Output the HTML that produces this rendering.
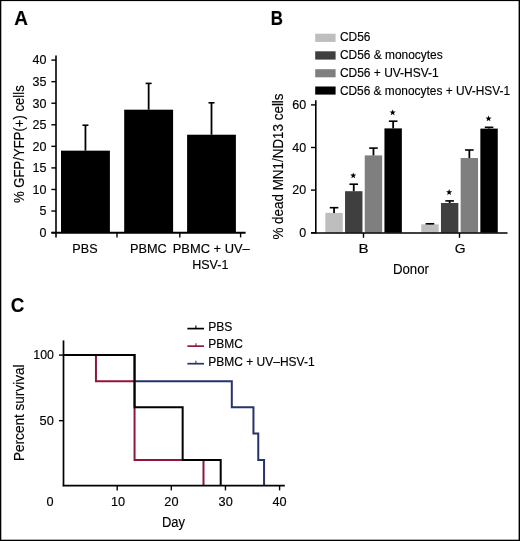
<!DOCTYPE html><html><head><meta charset="utf-8"><style>html,body{margin:0;padding:0;background:#fff;}svg{display:block;will-change:transform;}text{font-family:"Liberation Sans",sans-serif;fill:#000;stroke:#000;stroke-width:0.15px;}</style></head><body>
<svg width="520" height="541" viewBox="0 0 520 541">
<rect x="0.00" y="0.00" width="520.00" height="541.00" fill="#fff"/>
<text x="14.13" y="24.80" font-size="19.5" text-anchor="start" font-weight="bold" textLength="13.69" lengthAdjust="spacingAndGlyphs" stroke-width="0">A</text>
<rect x="61.00" y="150.66" width="48.90" height="81.94" fill="#000"/>
<line x1="85.45" y1="125.22" x2="85.45" y2="150.66" stroke="#000" stroke-width="1.8" stroke-linecap="butt"/>
<line x1="82.45" y1="125.22" x2="88.45" y2="125.22" stroke="#000" stroke-width="1.6" stroke-linecap="butt"/>
<rect x="124.20" y="109.69" width="48.90" height="122.91" fill="#000"/>
<line x1="148.65" y1="83.39" x2="148.65" y2="109.69" stroke="#000" stroke-width="1.8" stroke-linecap="butt"/>
<line x1="145.65" y1="83.39" x2="151.65" y2="83.39" stroke="#000" stroke-width="1.6" stroke-linecap="butt"/>
<rect x="187.10" y="134.71" width="48.80" height="97.89" fill="#000"/>
<line x1="211.50" y1="102.79" x2="211.50" y2="134.71" stroke="#000" stroke-width="1.8" stroke-linecap="butt"/>
<line x1="208.50" y1="102.79" x2="214.50" y2="102.79" stroke="#000" stroke-width="1.6" stroke-linecap="butt"/>
<line x1="56.00" y1="55.40" x2="56.00" y2="237.40" stroke="#000" stroke-width="1.6" stroke-linecap="butt"/>
<line x1="51.40" y1="232.60" x2="56.00" y2="232.60" stroke="#000" stroke-width="1.4" stroke-linecap="butt"/>
<text x="39.59" y="236.90" font-size="12" text-anchor="start" font-weight="normal" textLength="6.97" lengthAdjust="spacingAndGlyphs">0</text>
<line x1="51.40" y1="211.04" x2="56.00" y2="211.04" stroke="#000" stroke-width="1.4" stroke-linecap="butt"/>
<text x="39.59" y="215.34" font-size="12" text-anchor="start" font-weight="normal" textLength="6.97" lengthAdjust="spacingAndGlyphs">5</text>
<line x1="51.40" y1="189.47" x2="56.00" y2="189.47" stroke="#000" stroke-width="1.4" stroke-linecap="butt"/>
<text x="32.63" y="193.78" font-size="12" text-anchor="start" font-weight="normal" textLength="13.95" lengthAdjust="spacingAndGlyphs">10</text>
<line x1="51.40" y1="167.91" x2="56.00" y2="167.91" stroke="#000" stroke-width="1.4" stroke-linecap="butt"/>
<text x="32.63" y="172.21" font-size="12" text-anchor="start" font-weight="normal" textLength="13.95" lengthAdjust="spacingAndGlyphs">15</text>
<line x1="51.40" y1="146.35" x2="56.00" y2="146.35" stroke="#000" stroke-width="1.4" stroke-linecap="butt"/>
<text x="32.63" y="150.65" font-size="12" text-anchor="start" font-weight="normal" textLength="13.95" lengthAdjust="spacingAndGlyphs">20</text>
<line x1="51.40" y1="124.79" x2="56.00" y2="124.79" stroke="#000" stroke-width="1.4" stroke-linecap="butt"/>
<text x="32.63" y="129.09" font-size="12" text-anchor="start" font-weight="normal" textLength="13.95" lengthAdjust="spacingAndGlyphs">25</text>
<line x1="51.40" y1="103.22" x2="56.00" y2="103.22" stroke="#000" stroke-width="1.4" stroke-linecap="butt"/>
<text x="32.63" y="107.52" font-size="12" text-anchor="start" font-weight="normal" textLength="13.95" lengthAdjust="spacingAndGlyphs">30</text>
<line x1="51.40" y1="81.66" x2="56.00" y2="81.66" stroke="#000" stroke-width="1.4" stroke-linecap="butt"/>
<text x="32.63" y="85.96" font-size="12" text-anchor="start" font-weight="normal" textLength="13.95" lengthAdjust="spacingAndGlyphs">35</text>
<line x1="51.40" y1="60.10" x2="56.00" y2="60.10" stroke="#000" stroke-width="1.4" stroke-linecap="butt"/>
<text x="32.63" y="64.40" font-size="12" text-anchor="start" font-weight="normal" textLength="13.95" lengthAdjust="spacingAndGlyphs">40</text>
<line x1="51.40" y1="232.65" x2="245.60" y2="232.65" stroke="#000" stroke-width="2.0" stroke-linecap="butt"/>
<line x1="117.00" y1="232.90" x2="117.00" y2="237.40" stroke="#000" stroke-width="1.4" stroke-linecap="butt"/>
<line x1="179.80" y1="232.90" x2="179.80" y2="237.40" stroke="#000" stroke-width="1.4" stroke-linecap="butt"/>
<line x1="240.60" y1="232.90" x2="240.60" y2="237.40" stroke="#000" stroke-width="1.4" stroke-linecap="butt"/>
<text x="72.39" y="253.00" font-size="12" text-anchor="start" font-weight="normal" textLength="25.19" lengthAdjust="spacingAndGlyphs">PBS</text>
<text x="129.98" y="253.10" font-size="12" text-anchor="start" font-weight="normal" textLength="36.78" lengthAdjust="spacingAndGlyphs">PBMC</text>
<text x="172.77" y="253.20" font-size="12" text-anchor="start" font-weight="normal" textLength="76.92" lengthAdjust="spacingAndGlyphs">PBMC + UV–</text>
<text x="192.20" y="268.50" font-size="12" text-anchor="start" font-weight="normal" textLength="36.23" lengthAdjust="spacingAndGlyphs">HSV-1</text>
<text transform="translate(23.90,202.96) rotate(-90)" font-size="15" stroke-width="0.35" textLength="117.70" lengthAdjust="spacingAndGlyphs">% GFP/YFP(+) cells</text>
<text x="270.80" y="24.50" font-size="19.5" text-anchor="start" font-weight="bold" textLength="12.19" lengthAdjust="spacingAndGlyphs" stroke-width="0">B</text>
<rect x="315.20" y="33.70" width="20.40" height="8.20" fill="#bebebe"/>
<text x="339.90" y="41.30" font-size="12" text-anchor="start" font-weight="normal" textLength="30.56" lengthAdjust="spacingAndGlyphs">CD56</text>
<rect x="315.20" y="51.30" width="20.40" height="8.30" fill="#3f3f3f"/>
<text x="339.90" y="59.40" font-size="12" text-anchor="start" font-weight="normal" textLength="102.81" lengthAdjust="spacingAndGlyphs">CD56 &amp; monocytes</text>
<rect x="315.20" y="69.20" width="20.40" height="8.10" fill="#7f7f7f"/>
<text x="339.90" y="76.90" font-size="12" text-anchor="start" font-weight="normal" textLength="98.78" lengthAdjust="spacingAndGlyphs">CD56 + UV-HSV-1</text>
<rect x="315.20" y="86.50" width="20.40" height="8.10" fill="#000000"/>
<text x="339.91" y="94.60" font-size="12" text-anchor="start" font-weight="normal" textLength="170.21" lengthAdjust="spacingAndGlyphs">CD56 &amp; monocytes + UV-HSV-1</text>
<rect x="325.35" y="212.89" width="17.40" height="19.81" fill="#bebebe"/>
<line x1="334.05" y1="207.69" x2="334.05" y2="212.89" stroke="#000" stroke-width="1.8" stroke-linecap="butt"/>
<line x1="329.75" y1="207.69" x2="338.35" y2="207.69" stroke="#000" stroke-width="1.6" stroke-linecap="butt"/>
<rect x="345.05" y="191.21" width="17.40" height="41.49" fill="#3f3f3f"/>
<line x1="353.75" y1="184.20" x2="353.75" y2="191.21" stroke="#000" stroke-width="1.8" stroke-linecap="butt"/>
<line x1="349.45" y1="184.20" x2="358.05" y2="184.20" stroke="#000" stroke-width="1.6" stroke-linecap="butt"/>
<polygon points="353.25,172.40 354.04,174.51 356.29,174.61 354.53,176.02 355.13,178.19 353.25,176.94 351.37,178.19 351.97,176.02 350.21,174.61 352.46,174.51" fill="#000"/>
<rect x="364.75" y="155.40" width="17.40" height="77.30" fill="#7f7f7f"/>
<line x1="373.45" y1="148.10" x2="373.45" y2="155.40" stroke="#000" stroke-width="1.8" stroke-linecap="butt"/>
<line x1="369.15" y1="148.10" x2="377.75" y2="148.10" stroke="#000" stroke-width="1.6" stroke-linecap="butt"/>
<rect x="384.45" y="128.39" width="17.40" height="104.31" fill="#000000"/>
<line x1="393.15" y1="121.19" x2="393.15" y2="128.39" stroke="#000" stroke-width="1.8" stroke-linecap="butt"/>
<line x1="388.85" y1="121.19" x2="397.45" y2="121.19" stroke="#000" stroke-width="1.6" stroke-linecap="butt"/>
<polygon points="392.65,109.39 393.44,111.51 395.69,111.61 393.93,113.01 394.53,115.18 392.65,113.94 390.77,115.18 391.37,113.01 389.61,111.61 391.86,111.51" fill="#000"/>
<rect x="421.25" y="224.31" width="17.40" height="8.39" fill="#bebebe"/>
<line x1="429.95" y1="223.80" x2="429.95" y2="224.31" stroke="#000" stroke-width="1.8" stroke-linecap="butt"/>
<line x1="425.65" y1="223.80" x2="434.25" y2="223.80" stroke="#000" stroke-width="1.6" stroke-linecap="butt"/>
<rect x="440.95" y="203.01" width="17.40" height="29.69" fill="#3f3f3f"/>
<line x1="449.65" y1="200.90" x2="449.65" y2="203.01" stroke="#000" stroke-width="1.8" stroke-linecap="butt"/>
<line x1="445.35" y1="200.90" x2="453.95" y2="200.90" stroke="#000" stroke-width="1.6" stroke-linecap="butt"/>
<polygon points="449.15,189.10 449.94,191.21 452.19,191.31 450.43,192.71 451.03,194.89 449.15,193.64 447.27,194.89 447.87,192.71 446.11,191.31 448.36,191.21" fill="#000"/>
<rect x="460.65" y="158.00" width="17.40" height="74.70" fill="#7f7f7f"/>
<line x1="469.35" y1="149.99" x2="469.35" y2="158.00" stroke="#000" stroke-width="1.8" stroke-linecap="butt"/>
<line x1="465.05" y1="149.99" x2="473.65" y2="149.99" stroke="#000" stroke-width="1.6" stroke-linecap="butt"/>
<rect x="480.35" y="128.61" width="17.40" height="104.09" fill="#000000"/>
<line x1="489.05" y1="127.31" x2="489.05" y2="128.61" stroke="#000" stroke-width="1.8" stroke-linecap="butt"/>
<line x1="484.75" y1="127.31" x2="493.35" y2="127.31" stroke="#000" stroke-width="1.6" stroke-linecap="butt"/>
<polygon points="488.55,115.51 489.34,117.62 491.59,117.72 489.83,119.12 490.43,121.30 488.55,120.05 486.67,121.30 487.27,119.12 485.51,117.72 487.76,117.62" fill="#000"/>
<line x1="315.80" y1="100.20" x2="315.80" y2="233.60" stroke="#000" stroke-width="1.6" stroke-linecap="butt"/>
<line x1="311.00" y1="232.70" x2="315.80" y2="232.70" stroke="#000" stroke-width="1.4" stroke-linecap="butt"/>
<text x="299.27" y="236.70" font-size="12" text-anchor="start" font-weight="normal" textLength="6.94" lengthAdjust="spacingAndGlyphs">0</text>
<line x1="311.00" y1="190.10" x2="315.80" y2="190.10" stroke="#000" stroke-width="1.4" stroke-linecap="butt"/>
<text x="292.35" y="194.10" font-size="12" text-anchor="start" font-weight="normal" textLength="13.88" lengthAdjust="spacingAndGlyphs">20</text>
<line x1="311.00" y1="147.50" x2="315.80" y2="147.50" stroke="#000" stroke-width="1.4" stroke-linecap="butt"/>
<text x="292.35" y="151.50" font-size="12" text-anchor="start" font-weight="normal" textLength="13.88" lengthAdjust="spacingAndGlyphs">40</text>
<line x1="311.00" y1="104.90" x2="315.80" y2="104.90" stroke="#000" stroke-width="1.4" stroke-linecap="butt"/>
<text x="292.35" y="108.90" font-size="12" text-anchor="start" font-weight="normal" textLength="13.88" lengthAdjust="spacingAndGlyphs">60</text>
<line x1="311.00" y1="232.90" x2="507.50" y2="232.90" stroke="#000" stroke-width="1.5" stroke-linecap="butt"/>
<line x1="363.50" y1="232.90" x2="363.50" y2="237.80" stroke="#000" stroke-width="1.4" stroke-linecap="butt"/>
<line x1="459.50" y1="232.90" x2="459.50" y2="237.80" stroke="#000" stroke-width="1.4" stroke-linecap="butt"/>
<text x="358.49" y="252.90" font-size="12" text-anchor="start" font-weight="normal" textLength="10.10" lengthAdjust="spacingAndGlyphs" stroke-width="0">B</text>
<text x="454.71" y="252.90" font-size="12" text-anchor="start" font-weight="normal" textLength="10.81" lengthAdjust="spacingAndGlyphs" stroke-width="0">G</text>
<text x="392.94" y="274.00" font-size="15.5" text-anchor="start" font-weight="normal" textLength="36.01" lengthAdjust="spacingAndGlyphs" stroke-width="0.35">Donor</text>
<text transform="translate(282.80,239.57) rotate(-90)" font-size="15" stroke-width="0.35" textLength="146.12" lengthAdjust="spacingAndGlyphs">% dead MN1/ND13 cells</text>
<text x="10.75" y="311.60" font-size="19.5" text-anchor="start" font-weight="bold" textLength="13.56" lengthAdjust="spacingAndGlyphs" stroke-width="0">C</text>
<polyline points="63.50,355.10 134.55,355.10 134.55,381.15 231.80,381.15 231.80,407.15 253.45,407.15 253.45,433.50 258.25,433.50 258.25,460.00 264.05,460.00 264.05,486.00" fill="none" stroke="#27336b" stroke-width="2.0" stroke-linejoin="miter" stroke-linecap="butt"/>
<polyline points="63.50,355.10 95.95,355.10 95.95,381.15 134.55,381.15 134.55,460.00 203.50,460.00 203.50,486.00" fill="none" stroke="#8e173a" stroke-width="2.0" stroke-linejoin="miter" stroke-linecap="butt"/>
<polyline points="63.50,355.10 134.55,355.10 134.55,407.15 182.65,407.15 182.65,460.00 220.70,460.00 220.70,486.00" fill="none" stroke="#000" stroke-width="2.0" stroke-linejoin="miter" stroke-linecap="butt"/>
<line x1="63.50" y1="340.40" x2="63.50" y2="486.20" stroke="#000" stroke-width="1.7" stroke-linecap="butt"/>
<line x1="59.00" y1="420.65" x2="63.50" y2="420.65" stroke="#000" stroke-width="1.4" stroke-linecap="butt"/>
<line x1="59.00" y1="355.10" x2="63.50" y2="355.10" stroke="#000" stroke-width="1.4" stroke-linecap="butt"/>
<text x="33.31" y="359.40" font-size="12" text-anchor="start" font-weight="normal" textLength="20.62" lengthAdjust="spacingAndGlyphs">100</text>
<text x="39.56" y="424.95" font-size="12" text-anchor="start" font-weight="normal" textLength="14.28" lengthAdjust="spacingAndGlyphs">50</text>
<line x1="62.70" y1="485.60" x2="284.80" y2="485.60" stroke="#000" stroke-width="1.8" stroke-linecap="butt"/>
<line x1="117.19" y1="485.60" x2="117.19" y2="490.40" stroke="#000" stroke-width="1.4" stroke-linecap="butt"/>
<line x1="171.32" y1="485.60" x2="171.32" y2="490.40" stroke="#000" stroke-width="1.4" stroke-linecap="butt"/>
<line x1="225.45" y1="485.60" x2="225.45" y2="490.40" stroke="#000" stroke-width="1.4" stroke-linecap="butt"/>
<line x1="279.58" y1="485.60" x2="279.58" y2="490.40" stroke="#000" stroke-width="1.4" stroke-linecap="butt"/>
<text x="46.62" y="506.00" font-size="12" text-anchor="start" font-weight="normal" textLength="7.07" lengthAdjust="spacingAndGlyphs">0</text>
<text x="110.97" y="506.00" font-size="12" text-anchor="start" font-weight="normal" textLength="14.15" lengthAdjust="spacingAndGlyphs">10</text>
<text x="164.33" y="506.00" font-size="12" text-anchor="start" font-weight="normal" textLength="14.15" lengthAdjust="spacingAndGlyphs">20</text>
<text x="218.64" y="506.00" font-size="12" text-anchor="start" font-weight="normal" textLength="14.15" lengthAdjust="spacingAndGlyphs">30</text>
<text x="272.49" y="506.00" font-size="12" text-anchor="start" font-weight="normal" textLength="14.15" lengthAdjust="spacingAndGlyphs">40</text>
<text x="161.96" y="526.70" font-size="15.5" text-anchor="start" font-weight="normal" textLength="23.08" lengthAdjust="spacingAndGlyphs" stroke-width="0.35">Day</text>
<text transform="translate(23.90,460.99) rotate(-90)" font-size="15" stroke-width="0.35" textLength="96.52" lengthAdjust="spacingAndGlyphs">Percent survival</text>
<line x1="187.40" y1="328.60" x2="204.00" y2="328.60" stroke="#000" stroke-width="1.7" stroke-linecap="butt"/>
<line x1="195.90" y1="325.60" x2="195.90" y2="328.60" stroke="#000" stroke-width="1.1" stroke-linecap="butt"/>
<text x="208.23" y="330.50" font-size="12" text-anchor="start" font-weight="normal" textLength="24.23" lengthAdjust="spacingAndGlyphs">PBS</text>
<line x1="187.40" y1="346.15" x2="204.00" y2="346.15" stroke="#8e173a" stroke-width="1.7" stroke-linecap="butt"/>
<line x1="195.90" y1="343.15" x2="195.90" y2="346.15" stroke="#8e173a" stroke-width="1.1" stroke-linecap="butt"/>
<text x="208.24" y="348.30" font-size="12" text-anchor="start" font-weight="normal" textLength="34.59" lengthAdjust="spacingAndGlyphs">PBMC</text>
<line x1="187.40" y1="363.70" x2="204.00" y2="363.70" stroke="#27336b" stroke-width="1.7" stroke-linecap="butt"/>
<line x1="195.90" y1="360.70" x2="195.90" y2="363.70" stroke="#27336b" stroke-width="1.1" stroke-linecap="butt"/>
<text x="208.24" y="365.80" font-size="12" text-anchor="start" font-weight="normal" textLength="106.36" lengthAdjust="spacingAndGlyphs">PBMC + UV–HSV-1</text>
<rect x="0.00" y="0.00" width="1.30" height="541.00" fill="#000"/>
<rect x="0.00" y="0.00" width="520.00" height="1.10" fill="#000"/>
<rect x="518.60" y="0.00" width="1.40" height="541.00" fill="#000"/>
<rect x="0.00" y="539.70" width="520.00" height="1.30" fill="#000"/>
</svg></body></html>
